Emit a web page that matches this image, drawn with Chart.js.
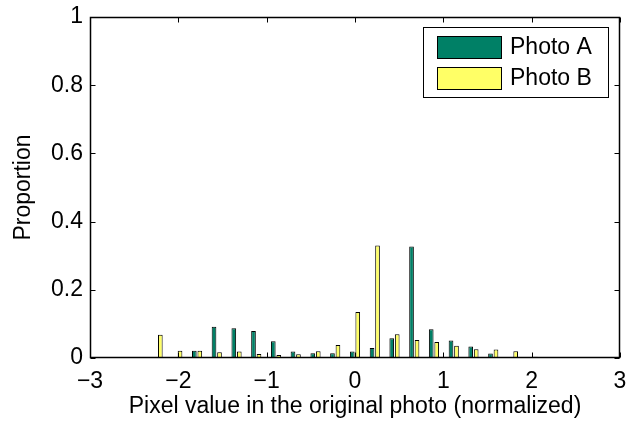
<!DOCTYPE html>
<html>
<head>
<meta charset="utf-8">
<script src="https://cdn.jsdelivr.net/npm/chart.js@4/dist/chart.umd.min.js"></script>
<style>
  html, body { margin: 0; padding: 0; background: #fff; }
  #wrap { width: 626px; height: 426px; }
</style>
</head>
<body>
<div id="wrap"><canvas id="histChart" width="626" height="426"></canvas></div>
<script>
// bin centres of the histogram (normalized pixel value)
const binCenters = [-2.235, -2.012, -1.788, -1.565, -1.341, -1.118, -0.894, -0.671, -0.447, -0.224,
  0, 0.224, 0.447, 0.671, 0.894, 1.118, 1.341, 1.565, 1.788, 2.012, 2.235];
const photoA = [0, 0, 0.021, 0.092, 0.087, 0.079, 0.049, 0.019, 0.014, 0.014,
  0.019, 0.029, 0.058, 0.327, 0.084, 0.051, 0.034, 0.013, 0, 0, 0.001];
const photoB = [0.068, 0.021, 0.021, 0.017, 0.019, 0.012, 0.009, 0.011, 0.020, 0.038,
  0.135, 0.330, 0.070, 0.053, 0.047, 0.036, 0.026, 0.025, 0.020, 0.004, 0];
const seriesNames = ["Photo A", "Photo B"];
const xTicks = [-3, -2, -1, 0, 1, 2, 3];
const yTicks = [0, 0.2, 0.4, 0.6, 0.8, 1];

const green = "rgb(0,128,102)";
const yellow = "rgb(255,255,102)";
const FONT = "'Liberation Sans', Arial, Helvetica, sans-serif";

Chart.defaults.font.family = FONT;
Chart.defaults.font.size = 23;
Chart.defaults.color = "#000";

// box around the axes + MATLAB style inward ticks
const axesBox = {
  id: "axesBox",
  afterDatasetsDraw(chart) {
    const { ctx, chartArea: a, scales } = chart;
    const L = Math.round(a.left) + 0.5, R = Math.round(a.right) - 0.5;
    const T = Math.round(a.top) + 0.5, B = Math.round(a.bottom) - 0.5;
    ctx.save();
    ctx.strokeStyle = "#000";
    ctx.lineWidth = 1;
    ctx.beginPath();
    scales.x.ticks.forEach((t) => {
      const px = Math.round(scales.x.getPixelForValue(t.value)) + 0.5;
      ctx.moveTo(px, B); ctx.lineTo(px, B - 5);
      ctx.moveTo(px, T); ctx.lineTo(px, T + 5);
    });
    scales.y.ticks.forEach((t) => {
      const py = Math.round(scales.y.getPixelForValue(t.value)) + 0.5;
      ctx.moveTo(L, py); ctx.lineTo(L + 5, py);
      ctx.moveTo(R, py); ctx.lineTo(R - 5, py);
    });
    ctx.stroke();
    ctx.lineWidth = 1.5;
    ctx.strokeRect(L, T, R - L, B - T);
    ctx.restore();
  },
  afterDraw(chart) {
    // legend box, top right inside the axes
    const { ctx } = chart;
    ctx.save();
    ctx.fillStyle = "#fff";
    ctx.fillRect(423.5, 27.5, 185, 70);
    ctx.strokeStyle = "#000";
    ctx.lineWidth = 1;
    ctx.strokeRect(423.5, 27.5, 185, 70);
    ctx.font = "23px " + FONT;
    ctx.textBaseline = "middle";
    chart.data.datasets.forEach((ds, i) => {
      const y = 36.5 + i * 31;
      ctx.fillStyle = ds.backgroundColor;
      ctx.fillRect(437.5, y, 64, 22);
      ctx.strokeRect(437.5, y, 64, 22);
      ctx.fillStyle = "#000";
      ctx.fillText(ds.label, 510, y + 11);
    });
    ctx.restore();
  }
};

new Chart(document.getElementById("histChart"), {
  type: "bar",
  data: {
    datasets: [
      {
        label: seriesNames[0],
        data: binCenters.map((x, i) => ({ x: x, y: photoA[i] })),
        backgroundColor: green,
        borderColor: "#000",
        borderWidth: 1,
      },
      {
        label: seriesNames[1],
        data: binCenters.map((x, i) => ({ x: x, y: photoB[i] })),
        backgroundColor: yellow,
        borderColor: "#000",
        borderWidth: 1,
      },
    ],
  },
  options: {
    responsive: false,
    animation: false,
    devicePixelRatio: 1,
    categoryPercentage: 0.557,
    barPercentage: 0.85,
    layout: { padding: { top: 17, right: 6, left: 0, bottom: 0 } },
    plugins: {
      legend: { display: false },
      tooltip: { enabled: false },
    },
    scales: {
      x: {
        type: "linear",
        min: -3,
        max: 3,
        offset: false,
        grid: { display: false, drawTicks: false, offset: false },
        border: { display: false },
        afterBuildTicks: (s) => { s.ticks = xTicks.map((v) => ({ value: v })); },
        afterFit: (s) => { s.height = 68; s.paddingLeft = 0; s.paddingRight = 0; },
        ticks: {
          padding: 10,
          maxRotation: 0,
          autoSkip: false,
          callback: (v) => String(v).replace("-", "\u2212"),
        },
        title: {
          display: true,
          text: "Pixel value in the original photo (normalized)",
          padding: { top: 0, bottom: 6 },
        },
      },
      y: {
        min: 0,
        max: 1,
        grid: { display: false, drawTicks: false },
        border: { display: false },
        afterBuildTicks: (s) => { s.ticks = yTicks.map((v) => ({ value: v })); },
        afterFit: (s) => { s.width = 90; s.paddingTop = 0; s.paddingBottom = 0; },
        ticks: {
          padding: 7,
          autoSkip: false,
          callback: (v) => String(+v.toFixed(1)),
        },
        title: {
          display: true,
          text: "Proportion",
          padding: { top: 10, bottom: 0 },
        },
      },
    },
  },
  plugins: [axesBox],
});
</script>
</body>
</html>
